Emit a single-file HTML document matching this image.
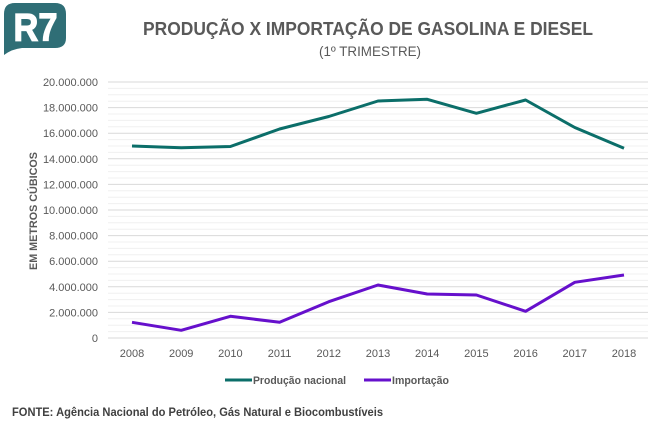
<!DOCTYPE html>
<html><head><meta charset="utf-8"><style>
html,body{margin:0;padding:0;background:#fff;}
svg{display:block;}
text{font-family:"Liberation Sans",sans-serif;}
</style></head><body>
<svg width="661" height="423" viewBox="0 0 661 423" xmlns="http://www.w3.org/2000/svg">
<rect width="661" height="423" fill="#fff"/>
<!-- logo -->
<path d="M4 55 L4 14 Q4 3 15 3 L55 3 Q66 3 66 14 L66 38 Q66 48 55 48 L22 48 Q12 49 4 55 Z" fill="#2f6e76"/>
<text x="13.5" y="40.5" font-size="39" font-weight="bold" fill="#fff" stroke="#fff" stroke-width="1.2" textLength="44" lengthAdjust="spacingAndGlyphs">R7</text>
<!-- titles -->
<text x="368" y="35" text-anchor="middle" font-size="18.5" font-weight="bold" fill="#595959" textLength="450" lengthAdjust="spacingAndGlyphs">PRODUÇÃO X IMPORTAÇÃO DE GASOLINA E DIESEL</text>
<text x="370" y="56" text-anchor="middle" font-size="14" fill="#595959" textLength="102" lengthAdjust="spacingAndGlyphs">(1º TRIMESTRE)</text>
<!-- gridlines -->
<g stroke-width="1">
<g stroke="#f0f0f0">
<line x1="108" x2="648" y1="331.6" y2="331.6"/><line x1="108" x2="648" y1="325.2" y2="325.2"/><line x1="108" x2="648" y1="318.8" y2="318.8"/>
<line x1="108" x2="648" y1="306" y2="306"/><line x1="108" x2="648" y1="299.6" y2="299.6"/><line x1="108" x2="648" y1="293.2" y2="293.2"/>
<line x1="108" x2="648" y1="280.4" y2="280.4"/><line x1="108" x2="648" y1="274" y2="274"/><line x1="108" x2="648" y1="267.6" y2="267.6"/>
<line x1="108" x2="648" y1="254.8" y2="254.8"/><line x1="108" x2="648" y1="248.4" y2="248.4"/><line x1="108" x2="648" y1="242" y2="242"/>
<line x1="108" x2="648" y1="229.2" y2="229.2"/><line x1="108" x2="648" y1="222.8" y2="222.8"/><line x1="108" x2="648" y1="216.4" y2="216.4"/>
<line x1="108" x2="648" y1="203.6" y2="203.6"/><line x1="108" x2="648" y1="197.2" y2="197.2"/><line x1="108" x2="648" y1="190.8" y2="190.8"/>
<line x1="108" x2="648" y1="178" y2="178"/><line x1="108" x2="648" y1="171.6" y2="171.6"/><line x1="108" x2="648" y1="165.2" y2="165.2"/>
<line x1="108" x2="648" y1="152.4" y2="152.4"/><line x1="108" x2="648" y1="146" y2="146"/><line x1="108" x2="648" y1="139.6" y2="139.6"/>
<line x1="108" x2="648" y1="126.8" y2="126.8"/><line x1="108" x2="648" y1="120.4" y2="120.4"/><line x1="108" x2="648" y1="114" y2="114"/>
<line x1="108" x2="648" y1="101.2" y2="101.2"/><line x1="108" x2="648" y1="94.8" y2="94.8"/><line x1="108" x2="648" y1="88.4" y2="88.4"/>
</g>
<g stroke="#d9d9d9">
<line x1="108" x2="648" y1="338" y2="338"/><line x1="108" x2="648" y1="312.4" y2="312.4"/><line x1="108" x2="648" y1="286.8" y2="286.8"/>
<line x1="108" x2="648" y1="261.2" y2="261.2"/><line x1="108" x2="648" y1="235.6" y2="235.6"/><line x1="108" x2="648" y1="210" y2="210"/>
<line x1="108" x2="648" y1="184.4" y2="184.4"/><line x1="108" x2="648" y1="158.8" y2="158.8"/><line x1="108" x2="648" y1="133.2" y2="133.2"/>
<line x1="108" x2="648" y1="107.6" y2="107.6"/><line x1="108" x2="648" y1="82" y2="82"/>
</g>
</g>
<!-- y labels -->
<g font-size="11" fill="#595959" text-anchor="end">
<text x="98" y="342">0</text>
<text x="98" y="316.4">2.000.000</text>
<text x="98" y="290.8">4.000.000</text>
<text x="98" y="265.2">6.000.000</text>
<text x="98" y="239.6">8.000.000</text>
<text x="98" y="214">10.000.000</text>
<text x="98" y="188.4">12.000.000</text>
<text x="98" y="162.8">14.000.000</text>
<text x="98" y="137.2">16.000.000</text>
<text x="98" y="111.6">18.000.000</text>
<text x="98" y="86">20.000.000</text>
</g>
<text transform="translate(37,211) rotate(-90)" text-anchor="middle" font-size="11" font-weight="bold" fill="#595959" textLength="118" lengthAdjust="spacingAndGlyphs">EM METROS CÚBICOS</text>
<!-- x labels -->
<g font-size="11" fill="#595959" text-anchor="middle">
<text x="132" y="357">2008</text><text x="181.2" y="357">2009</text><text x="230.4" y="357">2010</text>
<text x="279.6" y="357">2011</text><text x="328.8" y="357">2012</text><text x="378" y="357">2013</text>
<text x="427.2" y="357">2014</text><text x="476.4" y="357">2015</text><text x="525.6" y="357">2016</text>
<text x="574.8" y="357">2017</text><text x="624" y="357">2018</text>
</g>
<!-- series -->
<polyline fill="none" stroke="#0b6e69" stroke-width="3" stroke-linejoin="round" points="132,146 181.2,147.7 230.4,146.5 279.6,129 328.8,116.5 378,101 427.2,99.3 476.4,113.3 525.6,100 574.8,127.5 624,148.3"/>
<polyline fill="none" stroke="#6610cc" stroke-width="3" stroke-linejoin="round" points="132,322.3 181.2,330.3 230.4,316.3 279.6,322.3 328.8,301.7 378,285 427.2,294 476.4,295 525.6,311.3 574.8,282.3 624,275"/>
<!-- legend -->
<line x1="225" x2="252" y1="380" y2="380" stroke="#0b6e69" stroke-width="3"/>
<text x="253" y="384" font-size="11" font-weight="bold" fill="#595959" textLength="93" lengthAdjust="spacingAndGlyphs">Produção nacional</text>
<line x1="364" x2="391" y1="380" y2="380" stroke="#6610cc" stroke-width="3"/>
<text x="392" y="384" font-size="11" font-weight="bold" fill="#595959" textLength="57" lengthAdjust="spacingAndGlyphs">Importação</text>
<!-- footer -->
<text x="12" y="416" font-size="12" font-weight="bold" fill="#404040" textLength="371" lengthAdjust="spacingAndGlyphs">FONTE: Agência Nacional do Petróleo, Gás Natural e Biocombustíveis</text>
</svg>
</body></html>
